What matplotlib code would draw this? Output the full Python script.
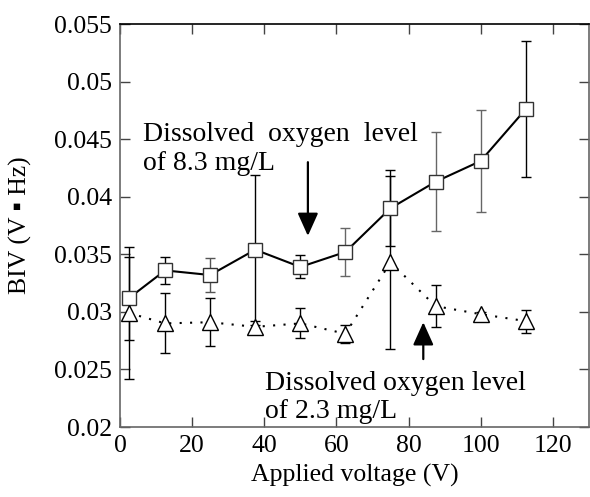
import matplotlib.pyplot as plt
import numpy as np

# --- data ---
voltage = [2.5, 12.5, 25, 37.5, 50, 62.5, 75, 87.5, 100, 112.5]

# dissolved oxygen 8.3 mg/L (squares)
biv_high = [0.0312, 0.0336, 0.0332, 0.0354, 0.0339, 0.0352, 0.0390, 0.0413, 0.0431, 0.0476]
err_high = [0.0036, 0.0012, 0.0015, 0.0065, 0.0010, 0.0021, 0.0033, 0.0043, 0.0044, 0.0059]

# dissolved oxygen 2.3 mg/L (triangles)
biv_low = [0.0299, 0.0290, 0.0291, 0.0287, 0.0290, 0.0281, 0.0343, 0.0305, 0.0298, 0.0292]
err_low = [0.0057, 0.0026, 0.0021, 0.0005, 0.0013, 0.0008, 0.0075, 0.0018, 0.0002, 0.0010]

x_ticks = [0, 20, 40, 60, 80, 100, 120]
y_ticks = [0.02, 0.025, 0.03, 0.035, 0.04, 0.045, 0.05, 0.055]
y_ticklabels = ['0.02', '0.025', '0.03', '0.035', '0.04', '0.045', '0.05', '0.055']

# --- style ---
plt.rcParams['font.family'] = ['Liberation Serif', 'DejaVu Sans']
plt.rcParams['font.size'] = 18.5

fig = plt.figure(figsize=(5.9, 4.97), dpi=100)
ax = fig.add_axes([0.2034, 0.1408, 0.7946, 0.8109])

# error bar colours: some bars in the original are printed grey
bar_col_high = ['k', 'k', '#555', 'k', 'k', '#666', 'k', '#666', '#666', 'k']
bar_col_low = ['k'] * len(voltage)

for x, y, e, c in zip(voltage, biv_high, err_high, bar_col_high):
    ax.errorbar(x, y, yerr=e, fmt='none', ecolor=c, elinewidth=1.0, capsize=3.5, capthick=1.0, zorder=2)
for x, y, e, c in zip(voltage, biv_low, err_low, bar_col_low):
    ax.errorbar(x, y, yerr=e, fmt='none', ecolor=c, elinewidth=1.0, capsize=3.5, capthick=1.0, zorder=2)

ax.plot(voltage, biv_high, color='k', linewidth=1.5, marker='s', markersize=10,
        markerfacecolor='white', markeredgecolor='#333', markeredgewidth=1.0, zorder=3)
ax.plot(voltage, biv_low, color='k', linewidth=1.5, linestyle=(0, (1, 4)), marker='^', markersize=11,
        markerfacecolor='white', markeredgecolor='k', markeredgewidth=1.0, zorder=3)

# annotations (va='baseline' aligns the last line for multi-line text)
ax.text(6.4, 0.04232, 'Dissolved  oxygen  level\nof 8.3 mg/L', ha='left', va='baseline',
        linespacing=1.2, fontsize=20)
ax.text(40.1, 0.02078, 'Dissolved oxygen level\nof 2.3 mg/L', ha='left', va='baseline',
        linespacing=1.15, fontsize=20)

ax.annotate('', xy=(52.1, 0.0366), xytext=(52.1, 0.0430),
            arrowprops=dict(arrowstyle='-|>,head_length=1.0,head_width=0.45', color='k', lw=1.6,
                            shrinkA=0, shrinkB=0, mutation_scale=14))
ax.annotate('', xy=(84.1, 0.0291), xytext=(84.1, 0.0259),
            arrowprops=dict(arrowstyle='-|>,head_length=1.0,head_width=0.45', color='k', lw=1.6,
                            shrinkA=0, shrinkB=0, mutation_scale=14))

# axes
ax.set_xlim(0, 130)
ax.set_ylim(0.02, 0.055)
ax.set_xticks(x_ticks)
ax.set_yticks(y_ticks)
ax.set_yticklabels(y_ticklabels)
ax.tick_params(direction='in', length=7, width=1.0, top=True, right=True, pad=6, colors='#444',
               labelcolor='k')

for side in ['left', 'bottom', 'right']:
    ax.spines[side].set_color('#666')
    ax.spines[side].set_linewidth(1.2)
ax.spines['top'].set_color('k')
ax.spines['top'].set_linewidth(1.2)

ax.set_xlabel('Applied voltage (V)', labelpad=5)
ax.set_ylabel('BIV (V \u25aa Hz)', labelpad=16)

fig.savefig('out.png', dpi=100)
